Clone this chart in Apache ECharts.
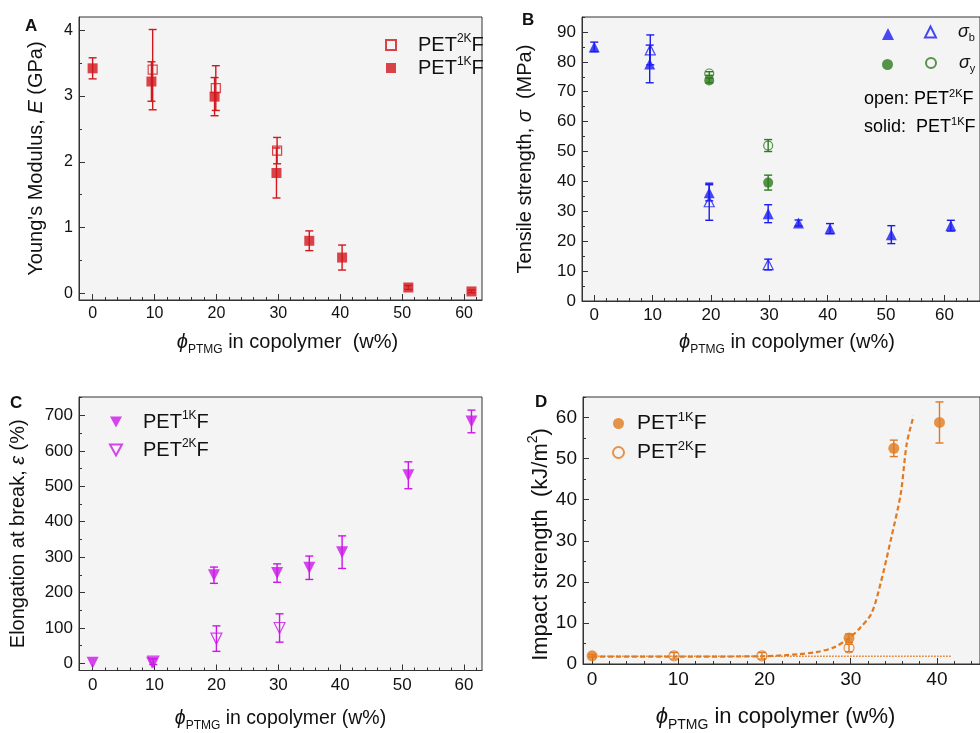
<!DOCTYPE html>
<html><head><meta charset="utf-8">
<script src="https://cdn.jsdelivr.net/npm/echarts@6.0.0/dist/echarts.min.js"></script>
<style>html,body{margin:0;padding:0;background:#fff}#c{width:980px;height:733px}</style>
</head><body><div id="c"></div>
<script>
// ---------- DATA ----------
// Panel A: Young's modulus (GPa)
const xA1 = [0, 9.5, 19.7, 29.7, 35, 40.3, 51, 61.2];
const yA1 = [3.42, 3.22, 2.99, 1.83, 0.80, 0.545, 0.09, 0.03];
const errA1 = [0.16, 0.30, 0.29, 0.38, 0.15, 0.19, 0.03, 0.02];
const xA2 = [9.7, 19.9, 29.8];
const yA2 = [3.40, 3.12, 2.17];
const errA2 = [0.61, 0.34, 0.20];
// Panel B: tensile strength (MPa)
const xBb1 = [0, 9.5, 19.7, 29.8, 35, 40.4, 50.9, 61.1];
const yBb1 = [85.0, 79.3, 36.2, 29.2, 26.1, 24.2, 22.2, 25.2];
const errBb1 = [1.6, 6.3, 2.7, 3.0, 1.0, 1.7, 3.0, 1.8];
const xBb2 = [9.6, 19.7, 29.8];
const yBb2 = [84.0, 33.2, 12.2];
const errBb2 = [5.0, 6.2, 1.8];
const xBy1 = [19.7, 29.8];
const yBy1 = [73.8, 39.6];
const errBy1 = [0.8, 2.5];
const xBy2 = [19.7, 29.8];
const yBy2 = [76.1, 52.0];
const errBy2 = [0.6, 2.0];
// Panel C: elongation at break (%)
const xC1 = [0, 9.6, 19.6, 29.8, 35, 40.3, 51, 61.2];
const yC1 = [2, 2, 249, 255, 270, 314, 531, 683];
const errC1 = [0, 0, 23, 26, 33, 46, 38, 32];
const xC2 = [9.8, 20.0, 30.2];
const yC2 = [5, 70, 100];
const errC2 = [8, 36, 40];
// Panel D: impact strength (kJ/m2)
const xD1 = [0, 29.8, 35, 40.3];
const yD1 = [2.0, 6.3, 52.5, 58.8];
const errD1 = [0.3, 1.0, 2.0, 5.0];
const xD2 = [9.5, 19.7, 29.8];
const yD2 = [2.0, 2.0, 3.9];
const errD2 = [0.8, 0.8, 0.9];
const fitX = [0, 10, 20, 24, 26, 28, 29.8, 31, 32.4, 33.5, 34.7, 35.8, 36.5, 37.3];
const fitY = [1.8, 1.8, 1.9, 2.4, 2.9, 4.0, 6.3, 8.6, 12.3, 19.9, 30.7, 41.4, 53.6, 60.4];
const baseX = [0, 41.6];
const baseY = [1.9, 1.9];
// Tick labels
const ticksX60 = [0, 10, 20, 30, 40, 50, 60];
const ticksX40 = [0, 10, 20, 30, 40];
const ticksYA = [0, 1, 2, 3, 4];
const ticksYB = [0, 10, 20, 30, 40, 50, 60, 70, 80, 90];
const ticksYC = [0, 100, 200, 300, 400, 500, 600, 700];
const ticksYD = [0, 10, 20, 30, 40, 50, 60];

// ---------- helpers ----------
const FF = '"Liberation Sans", Arial, sans-serif';
const zip = (xs, ys) => xs.map((x, i) => [x, ys[i]]);
const zip3 = (xs, ys, es) => xs.map((x, i) => [x, ys[i], es[i]]);
function minors(lo, hi, step, majors) {
  const out = [];
  for (let v = lo; v <= hi + 1e-9; v += step) {
    const r = Math.round(v * 1000) / 1000;
    if (!majors.some(m => Math.abs(m - r) < 1e-6)) out.push(r);
  }
  return out;
}
const xAxes = [], yAxes = [];
function axesFor(g, xr, yr, xt, xm, yt, ym, fs, xname, yname, xgap, ygap, xRich, yRich, xPad, yPad) {
  xAxes.push({type: 'value', gridIndex: g, min: xr[0], max: xr[1], position: 'bottom',
    axisLine: {show: true, onZero: false, lineStyle: {color: '#333'}},
    axisTick: {show: true, inside: true, length: 6, customValues: xt, lineStyle: {color: '#333'}},
    axisLabel: {customValues: xt, fontSize: fs, color: '#111', fontFamily: FF, margin: 6},
    splitLine: {show: false},
    name: xname, nameLocation: 'middle', nameGap: xgap, nameTextStyle: {rich: xRich, padding: xPad}});
  xAxes.push({type: 'value', gridIndex: g, min: xr[0], max: xr[1], position: 'bottom',
    axisLine: {show: false, onZero: false}, axisLabel: {show: false}, splitLine: {show: false},
    axisTick: {show: true, inside: true, length: 3, customValues: xm, lineStyle: {color: '#333'}}});
  yAxes.push({type: 'value', gridIndex: g, min: yr[0], max: yr[1], position: 'left',
    axisLine: {show: true, onZero: false, lineStyle: {color: '#333'}},
    axisTick: {show: true, inside: true, length: 6, customValues: yt, lineStyle: {color: '#333'}},
    axisLabel: {customValues: yt, fontSize: fs, color: '#111', fontFamily: FF, margin: 6},
    splitLine: {show: false},
    name: yname, nameLocation: 'middle', nameGap: ygap, nameTextStyle: {rich: yRich, padding: yPad}});
  yAxes.push({type: 'value', gridIndex: g, min: yr[0], max: yr[1], position: 'left',
    axisLine: {show: false, onZero: false}, axisLabel: {show: false}, splitLine: {show: false},
    axisTick: {show: true, inside: true, length: 3, customValues: ym, lineStyle: {color: '#333'}}});
}
function richFor(fs) {
  return {
    n: {fontSize: fs, fontFamily: FF, color: '#111', lineHeight: fs + 8, verticalAlign: 'middle'},
    i: {fontSize: fs, fontFamily: FF, color: '#111', fontStyle: 'italic', lineHeight: fs + 8, verticalAlign: 'middle'},
    sub: {fontSize: Math.round(fs * 0.62), fontFamily: FF, color: '#111', lineHeight: Math.round(fs * 0.75), verticalAlign: 'bottom'},
    sup: {fontSize: Math.round(fs * 0.62), fontFamily: FF, color: '#111', lineHeight: Math.round(fs * 0.75), verticalAlign: 'top'}
  };
}
const xTitle = '{i|\u03d5}{sub|PTMG}{n| in copolymer  (w%)}';
const xTitle2 = '{i|\u03d5}{sub|PTMG}{n| in copolymer (w%)}';

axesFor(0, [-2.2, 62.9], [-0.1, 4.2], ticksX60, minors(0, 62, 2, ticksX60), ticksYA, minors(0, 4, 0.5, ticksYA), 16,
  xTitle, "{n|Young's Modulus, }{i|E}{n| (GPa)}", 28, 29, richFor(20), richFor(20), [0, 0, 0, 14], 0);
axesFor(1, [-2.1, 66.1], [0, 95], ticksX60, minors(0, 64, 2, ticksX60), ticksYB, minors(0, 95, 5, ticksYB), 17,
  xTitle2, '{n|Tensile strength, }{i|\u03c3}{n|  (MPa)}', 27, 43, richFor(20), richFor(20), [0, 0, 0, 12], 0);
axesFor(2, [-2.2, 62.9], [-20, 752], ticksX60, minors(0, 62, 2, ticksX60), ticksYC, minors(0, 750, 50, ticksYC), 17,
  xTitle2, '{n|Elongation at break, }{i|\u03b5}{n| (%)}', 34, 47, richFor(19.5), richFor(20), 0, 0);
axesFor(3, [-1.06, 45], [0, 65], ticksX40, minors(0, 44, 2, ticksX40), ticksYD, minors(0, 65, 5, ticksYD), 19,
  xTitle2, '{n|Impact strength  (kJ/m}{sup|2}{n|)}', 38, 24, richFor(22), richFor(22), [0, 12, 0, 0], [0, 28, 0, 0]);

function scatter(name, g, xs, ys, sym, size, col, open, rot) {
  return {type: 'scatter', name: name, xAxisIndex: 2 * g, yAxisIndex: 2 * g, data: zip(xs, ys),
    symbol: sym, symbolSize: size, symbolRotate: rot || 0, z: 5,
    itemStyle: open ? {color: 'rgba(255,255,255,0)', borderColor: col, borderWidth: 1.2} : {color: col, borderWidth: 0}};
}
function errbars(g, xs, ys, es, col) {
  return {type: 'custom', xAxisIndex: 2 * g, yAxisIndex: 2 * g, data: zip3(xs, ys, es), z: 4, silent: true,
    encode: {x: 0, y: 1},
    renderItem: function (params, api) {
      const x = api.value(0), y = api.value(1), e = api.value(2);
      if (!e) return null;
      const t = api.coord([x, y + e]), b = api.coord([x, y - e]);
      const hw = 4, st = {stroke: col, lineWidth: 1.4};
      return {type: 'group', children: [
        {type: 'line', shape: {x1: t[0], y1: t[1], x2: b[0], y2: b[1]}, style: st},
        {type: 'line', shape: {x1: t[0] - hw, y1: t[1], x2: t[0] + hw, y2: t[1]}, style: st},
        {type: 'line', shape: {x1: b[0] - hw, y1: b[1], x2: b[0] + hw, y2: b[1]}, style: st}
      ]};
    }};
}
const RED = '#d2171d', BLUE = '#1c1cf2', GREEN = '#2e7a1e', MAG = '#cc16ea', ORG = '#e07a20';

const series = [
  errbars(0, xA1, yA1, errA1, RED), errbars(0, xA2, yA2, errA2, RED),
  scatter('A2', 0, xA2, yA2, 'rect', 9, RED, true),
  scatter('A1', 0, xA1, yA1, 'rect', 10, RED, false),
  errbars(1, xBb1, yBb1, errBb1, BLUE), errbars(1, xBb2, yBb2, errBb2, BLUE),
  errbars(1, xBy1, yBy1, errBy1, GREEN), errbars(1, xBy2, yBy2, errBy2, GREEN),
  scatter('Bb1', 1, xBb1, yBb1, 'triangle', 11, BLUE, false),
  scatter('Bb2', 1, xBb2, yBb2, 'triangle', 10, BLUE, true),
  scatter('By1', 1, xBy1, yBy1, 'circle', 10, GREEN, false),
  scatter('By2', 1, xBy2, yBy2, 'circle', 9, GREEN, true),
  errbars(2, xC1, yC1, errC1, MAG), errbars(2, xC2, yC2, errC2, MAG),
  scatter('C1', 2, xC1, yC1, 'triangle', 12, MAG, false, 180),
  scatter('C2', 2, xC2, yC2, 'triangle', 11, MAG, true, 180),
  {type: 'line', xAxisIndex: 6, yAxisIndex: 6, data: zip(baseX, baseY), symbol: 'none', z: 3,
    lineStyle: {color: ORG, width: 1.5, type: [1.5, 1.5]}},
  {type: 'line', xAxisIndex: 6, yAxisIndex: 6, data: zip(fitX, fitY), symbol: 'none', smooth: 0.3, z: 3,
    lineStyle: {color: ORG, width: 2.2, type: [5, 3]}},
  errbars(3, xD1, yD1, errD1, ORG), errbars(3, xD2, yD2, errD2, ORG),
  scatter('D1', 3, xD1, yD1, 'circle', 11, ORG, false),
  scatter('D2', 3, xD2, yD2, 'circle', 10, ORG, true)
];

function petRich(fs) {
  return {
    n: {fontSize: fs, fontFamily: FF, color: '#111', lineHeight: fs + 4, verticalAlign: 'middle'},
    sup: {fontSize: Math.round(fs * 0.62), fontFamily: FF, color: '#111', lineHeight: Math.round(fs * 0.7), verticalAlign: 'top'},
    i: {fontSize: fs, fontFamily: FF, color: '#111', fontStyle: 'italic', lineHeight: fs + 4, verticalAlign: 'middle'},
    sub: {fontSize: Math.round(fs * 0.62), fontFamily: FF, color: '#111', lineHeight: Math.round(fs * 0.7), verticalAlign: 'bottom'}
  };
}
const legendText = {
  A2: '{n|PET}{sup|2K}{n|F}', A1: '{n|PET}{sup|1K}{n|F}',
  C1: '{n|PET}{sup|1K}{n|F}', C2: '{n|PET}{sup|2K}{n|F}',
  D1: '{n|PET}{sup|1K}{n|F}', D2: '{n|PET}{sup|2K}{n|F}',
  Bb1: '', Bb2: '{i|\u03c3}{sub|b}', By1: '', By2: '{i|\u03c3}{sub|y}'
};
function leg(names, left, top, iw, gap, fs, pad) {
  return {data: names, left: left, top: top, orient: 'vertical', itemWidth: iw, itemHeight: iw, itemGap: gap,
    padding: 0, selectedMode: false, formatter: n => legendText[n],
    textStyle: {rich: petRich(fs), padding: [0, 0, 0, pad]}};
}
const downTri = 'path://M0,0 L10,0 L5,9 Z';

const option = {
  animation: false,
  backgroundColor: '#fff',
  grid: [
    {left: 79, top: 17, width: 403, height: 283},
    {left: 582, top: 17, width: 422, height: 284},
    {left: 79, top: 397, width: 403, height: 284},
    {left: 583, top: 397, width: 408, height: 284}
  ].map(g => Object.assign(g, {show: true, backgroundColor: '#f4f4f4', borderColor: '#333', borderWidth: 1})),
  title: [
    {text: 'A', left: 25, top: 18},
    {text: 'B', left: 522, top: 12},
    {text: 'C', left: 10, top: 395},
    {text: 'D', left: 535, top: 394}
  ].map(t => Object.assign(t, {padding: 0, textStyle: {fontSize: 17, fontWeight: 'bold', color: '#111', fontFamily: FF}})),
  legend: [
    leg(['A2', 'A1'], 385, 33, 10, 1, 20, 17),
    leg([{name: 'C1', icon: downTri}, {name: 'C2', icon: downTri}], 109, 410, 12, 6, 20, 16),
    leg(['D1', 'D2'], 612, 411, 11, 6, 21, 8),
    leg(['Bb1'], 882, 28, 12, 4, 18, 0),
    leg(['Bb2'], 924, 23, 11, 4, 18, 17),
    leg(['By1'], 882, 59, 11, 4, 18, 0),
    leg(['By2'], 925, 54, 10, 4, 18, 18)
  ],
  graphic: [
    {type: 'text', left: 864, top: 88, style: {text: '{n|open: PET}{sup|2K}{n|F}', rich: petRich(18)}},
    {type: 'text', left: 864, top: 116, style: {text: '{n|solid:  PET}{sup|1K}{n|F}', rich: petRich(18)}}
  ],
  xAxis: xAxes,
  yAxis: yAxes,
  series: series
};
const chart = echarts.init(document.getElementById('c'));
chart.setOption(option);
</script>
</body></html>
